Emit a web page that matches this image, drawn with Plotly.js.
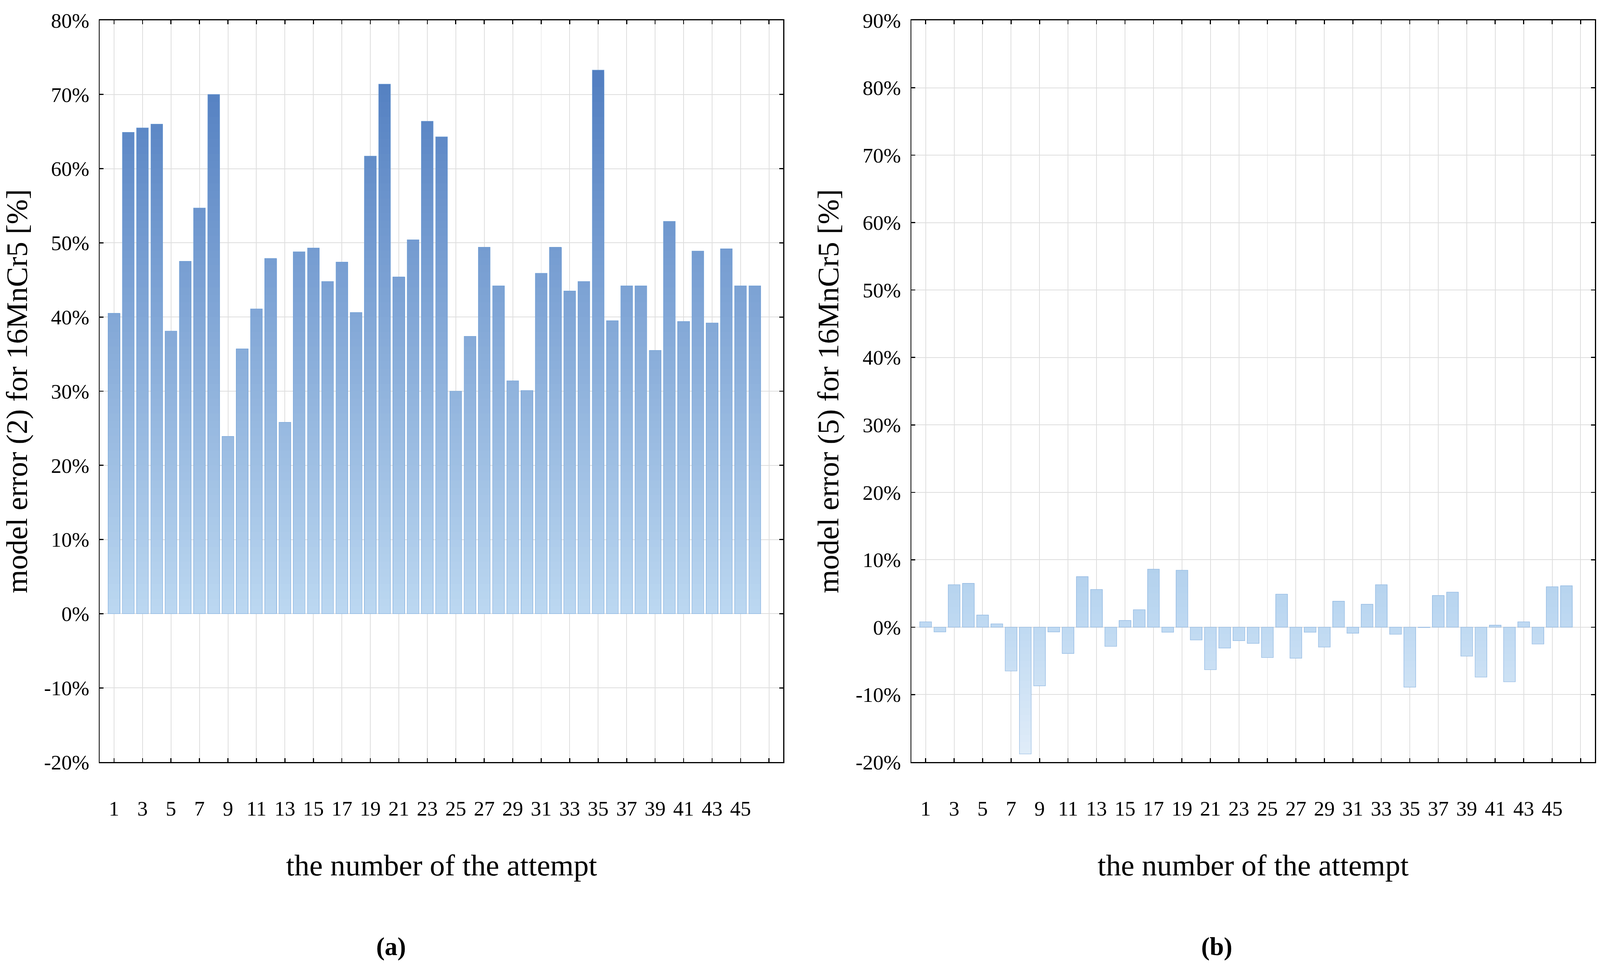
<!DOCTYPE html>
<html>
<head>
<meta charset="utf-8">
<script src="https://cdn.plot.ly/plotly-3.0.1.min.js"></script>
<style>html,body{margin:0;padding:0;background:#fff;overflow:hidden;}#chart{width:100vw;height:100vh;}</style>
</head>
<body>
<div id="chart"></div>
<script>
// ---- data ----
var attempts = [1,2,3,4,5,6,7,8,9,10,11,12,13,14,15,16,17,18,19,20,21,22,23,24,25,26,27,28,29,30,31,32,33,34,35,36,37,38,39,40,41,42,43,44,45,46];
var errorModel2 = [40.5,64.9,65.5,66.0,38.1,47.5,54.7,70.0,23.9,35.7,41.1,47.9,25.8,48.8,49.3,44.8,47.4,40.6,61.7,71.4,45.4,50.4,66.4,64.3,30.0,37.4,49.4,44.2,31.4,30.1,45.9,49.4,43.5,44.8,73.3,39.5,44.2,44.2,35.5,52.9,39.4,48.9,39.2,49.2,44.2,44.2];
var errorModel5 = [0.8,-0.7,6.3,6.5,1.8,0.5,-6.5,-18.8,-8.7,-0.7,-3.9,7.5,5.6,-2.85,1.0,2.6,8.6,-0.75,8.45,-1.9,-6.3,-3.1,-2.0,-2.4,-4.5,4.9,-4.6,-0.75,-2.95,3.85,-0.9,3.4,6.3,-1.05,-8.9,-0.05,4.7,5.2,-4.3,-7.4,0.3,-8.1,0.8,-2.5,6.0,6.15];
var xTickVals = [1,3,5,7,9,11,13,15,17,19,21,23,25,27,29,31,33,35,37,39,41,43,45,47];
var xTickLabels = ['1','3','5','7','9','11','13','15','17','19','21','23','25','27','29','31','33','35','37','39','41','43','45',''];
var yTickVals1 = [-20,-10,0,10,20,30,40,50,60,70,80];
var yTickLabels1 = ['-20%','-10%','0%','10%','20%','30%','40%','50%','60%','70%','80%'];
var yTickVals2 = [-20,-10,0,10,20,30,40,50,60,70,80,90];
var yTickLabels2 = ['-20%','-10%','0%','10%','20%','30%','40%','50%','60%','70%','80%','90%'];
var yTitle1 = 'model error (2) for 16MnCr5 [%]';
var yTitle2 = 'model error (5) for 16MnCr5 [%]';
var xTitle = 'the number of the attempt';
var panelLabels = ['(a)', '(b)'];

// ---- sizing (reference frame is 6269 x 2477) ----
var RW = 6269, RH = 2477;
var W = window.innerWidth || RW, H = window.innerHeight || RH;
var kx = W / RW, ky = H / RH;
var k = Math.min(kx, ky);
function px(v) { return v * k; }

var FONT = '"Liberation Serif", "Times New Roman", serif';
var stops = [[0, [226,237,249]], [0.2, [188,216,241]], [1, [72,118,188]]];
function colorAt(f) {
  f = Math.max(0, Math.min(1, f));
  for (var i = 1; i < stops.length; i++) {
    if (f <= stops[i][0]) {
      var a = stops[i-1], b = stops[i];
      var t = (f - a[0]) / (b[0] - a[0]);
      var c = a[1].map(function(v, j){ return Math.round(v + (b[1][j] - v) * t); });
      return 'rgb(' + c.join(',') + ')';
    }
  }
  return 'rgb(' + stops[stops.length-1][1].join(',') + ')';
}

var BARW = 0.83;
function gradientBars(values, ymin, ymax, xa, ya) {
  var traces = [];
  var span = ymax - ymin;
  var vmax = Math.ceil(Math.max.apply(null, values));
  var vmin = Math.floor(Math.min.apply(null, values));
  for (var L = vmax; L >= 1; L--) {
    var ys = values.map(function(v){ return v > 0 ? Math.min(v, L) : null; });
    traces.push({type:'bar', x: attempts, y: ys, xaxis: xa, yaxis: ya, width: BARW,
      marker:{color: colorAt((L - 0.5 - ymin) / span), line:{width:0}}, hoverinfo:'skip', showlegend:false});
  }
  for (var M = vmin; M <= -1; M++) {
    var ys2 = values.map(function(v){ return v < 0 ? Math.max(v, M) : null; });
    traces.push({type:'bar', x: attempts, y: ys2, xaxis: xa, yaxis: ya, width: BARW,
      marker:{color: colorAt((M + 0.5 - ymin) / span), line:{width:0}}, hoverinfo:'skip', showlegend:false});
  }
  traces.push({type:'bar', x: attempts, y: values, xaxis: xa, yaxis: ya, width: BARW,
    marker:{color:'rgba(0,0,0,0)', line:{width: Math.max(1, px(2)), color:'rgba(110,160,215,0.6)'}}, showlegend:false});
  return traces;
}

var data = gradientBars(errorModel2, -20, 80, 'x', 'y').concat(gradientBars(errorModel5, -20, 90, 'x2', 'y2'));

var yDom = [1 - 1950 / RH, 1 - 52 / RH];
// label spacing: an empty first line pushes x labels below the inside ticks; a no-break space pads y labels
var xLabelsShown = xTickLabels.map(function(s){ return s ? '<br>' + s : s; });
function padY(labels) { return labels.map(function(s){ return s + '\u00a0'; }); }

function xAxis(dom, anchor) {
  return {domain: dom, anchor: anchor, range: [0, 48], tickmode: 'array', tickvals: xTickVals, ticktext: xLabelsShown,
    showgrid: true, gridcolor: '#dedede', gridwidth: px(3), zeroline: false,
    showline: true, linecolor: '#000', linewidth: px(4), mirror: 'ticks',
    ticks: 'inside', ticklen: px(15), tickwidth: px(4), tickcolor: '#000',
    tickfont: {family: FONT, size: px(82), color: '#000'},
    title: {text: xTitle, font: {family: FONT, size: px(118), color: '#000'}, standoff: Math.max(0, 141 * ky - 80 * kx)}};
}
function yAxis(dom, anchor, range, vals, labels, title) {
  return {domain: dom, anchor: anchor, range: range, tickmode: 'array', tickvals: vals, ticktext: padY(labels),
    showgrid: true, gridcolor: '#dedede', gridwidth: px(3), zeroline: false,
    showline: true, linecolor: '#000', linewidth: px(4), mirror: 'ticks',
    ticks: 'inside', ticklen: px(15), tickwidth: px(4), tickcolor: '#000',
    tickfont: {family: FONT, size: px(82), color: '#000'},
    title: {text: title, font: {family: FONT, size: px(118), color: '#000'}, standoff: 28 * kx}};
}

var layout = {
  width: W, height: H,
  margin: {l: 0, r: 0, t: 0, b: 0, pad: 0},
  paper_bgcolor: '#fff', plot_bgcolor: '#fff',
  barmode: 'overlay', showlegend: false,
  xaxis: xAxis([391 / RW, 3069 / RW], 'y'),
  yaxis: yAxis(yDom, 'x', [-20, 80], yTickVals1, yTickLabels1, yTitle1),
  xaxis2: xAxis([3571 / RW, 6249 / RW], 'y2'),
  yaxis2: yAxis(yDom, 'x2', [-20, 90], yTickVals2, yTickLabels2, yTitle2),
  annotations: [
    {text: '<b>' + panelLabels[0] + '</b>', xref: 'paper', yref: 'paper', x: 1532 / RW, y: 1 - 2422 / RH, xanchor: 'center', yanchor: 'middle', showarrow: false,
      font: {family: FONT, size: px(100), color: '#000'}},
    {text: '<b>' + panelLabels[1] + '</b>', xref: 'paper', yref: 'paper', x: 4767 / RW, y: 1 - 2422 / RH, xanchor: 'center', yanchor: 'middle', showarrow: false,
      font: {family: FONT, size: px(100), color: '#000'}}
  ]
};

Plotly.newPlot('chart', data, layout, {staticPlot: true, displayModeBar: false});
</script>
</body>
</html>
